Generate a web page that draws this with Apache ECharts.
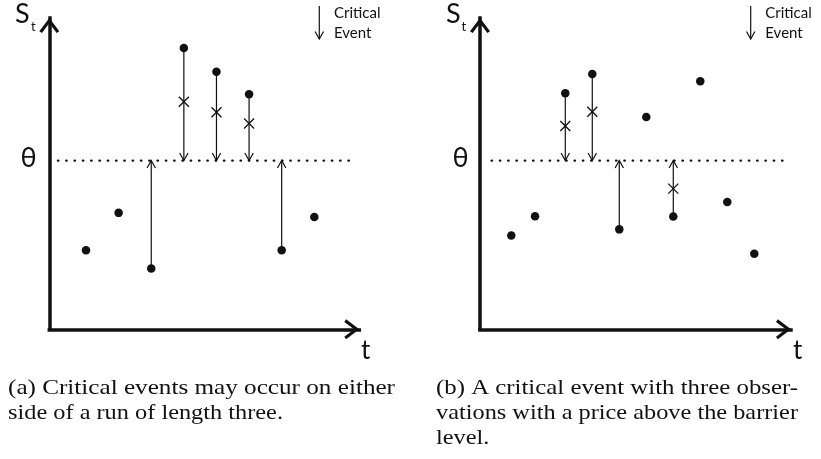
<!DOCTYPE html>
<html>
<head>
<meta charset="utf-8">
<script src="https://cdn.jsdelivr.net/npm/echarts@6/dist/echarts.min.js"></script>
<style>html,body{margin:0;padding:0;background:#fff;}#c{width:821px;height:459px;}</style>
</head>
<body>
<div id="c"></div>
<script>
// Panel (a)
const tA = [1, 2, 3, 4, 5, 6, 7, 8];
const sA = [2.54, 3.74, 1.95, 9.04, 8.27, 7.55, 2.54, 3.61];
const crossA = [null, null, null, 7.31, 6.97, 6.61, null, null];
const eventA = [0, 0, 1, 1, 1, 1, 1, 0];
const barrierSpanA = [0.14, 9.19];
// Panel (b)
const tB = [1, 1.88, 3, 4, 5, 6, 7, 8, 9, 10];
const sB = [3.01, 3.63, 7.58, 8.20, 3.21, 6.82, 3.62, 7.97, 4.09, 2.43];
const crossB = [null, null, 6.53, 6.99, null, null, 4.52, null, null, null];
const eventB = [0, 0, 1, 1, 1, 0, 1, 0, 0, 0];
const barrierSpanB = [0.27, 11.14];
const theta = 5.42;
const captionA = ['(a) Critical events may occur on either', 'side of a run of length three.'];
const captionB = ['(b) A critical event with three obser-', 'vations with a price above the barrier', 'level.'];

const chart = echarts.init(document.getElementById('c'), null, {renderer: 'canvas'});
const chevron = 'path://M0,13.2 L10,0 L20,13.2 L17.4,15 L10,5.2 L2.6,15 Z';

function axisPair(idx, min, max) {
  return {
    x: {type: 'value', gridIndex: idx, min: min, max: max,
      axisLine: {show: true, onZero: false, symbol: ['none', chevron], symbolSize: [20, 15], symbolOffset: [0, -7.5],
        lineStyle: {color: '#111', width: 3.5, cap: 'square'}},
      axisTick: {show: false}, axisLabel: {show: false}, splitLine: {show: false}},
    y: {type: 'value', gridIndex: idx, min: 0, max: 10,
      axisLine: {show: true, onZero: false, symbol: ['none', chevron], symbolSize: [20, 15], symbolOffset: [0, -7.5],
        lineStyle: {color: '#111', width: 3.5, cap: 'square'}},
      axisTick: {show: false}, axisLabel: {show: false}, splitLine: {show: false}}
  };
}
const axA = axisPair(0, -0.126, 9.38);
const axB = axisPair(1, -0.159, 11.36);

function rows(t, s, cross, ev) {
  return t.map((v, i) => [v, s[i], cross[i] == null ? NaN : cross[i], ev[i]]);
}

function renderEvents(params, api) {
  const t = api.value(0), s = api.value(1), c = api.value(2), ev = api.value(3);
  const children = [];
  const p = api.coord([t, s]);
  const q = api.coord([t, theta]);
  const ls = {stroke: '#111', lineWidth: 1.2, fill: 'none'};
  if (ev) {
    children.push({type: 'line', shape: {x1: p[0], y1: p[1], x2: q[0], y2: q[1]}, style: ls});
    const d = q[1] > p[1] ? 1 : -1;
    children.push({type: 'polyline', shape: {points: [[q[0] - 4.2, q[1] - d * 7.5], [q[0], q[1]], [q[0] + 4.2, q[1] - d * 7.5]]}, style: ls});
  }
  if (!isNaN(c)) {
    const m = api.coord([t, c]);
    const r = 5;
    children.push({type: 'line', shape: {x1: m[0] - r, y1: m[1] - r, x2: m[0] + r, y2: m[1] + r}, style: {stroke: '#111', lineWidth: 1.3}});
    children.push({type: 'line', shape: {x1: m[0] - r, y1: m[1] + r, x2: m[0] + r, y2: m[1] - r}, style: {stroke: '#111', lineWidth: 1.3}});
  }
  return {type: 'group', children: children};
}

function panelSeries(idx, t, s, cross, ev, span) {
  return [
    {type: 'line', xAxisIndex: idx, yAxisIndex: idx, data: [[span[0], theta], [span[1], theta]], symbol: 'none', silent: true,
      lineStyle: {color: '#111', width: 2.4, type: [0.4, 7.9], cap: 'round', opacity: 1}, animation: false},
    {type: 'custom', xAxisIndex: idx, yAxisIndex: idx, data: rows(t, s, cross, ev), renderItem: renderEvents, silent: true, animation: false,
      encode: {x: 0, y: 1}},
    {type: 'scatter', xAxisIndex: idx, yAxisIndex: idx, data: t.map((v, i) => [v, s[i]]), symbolSize: 8.5,
      itemStyle: {color: '#111', opacity: 1}, silent: true, animation: false}
  ];
}

const labelFont = 'Lato, "Open Sans", sans-serif';
const capFont = '"Liberation Serif", "DejaVu Serif", serif';
const capSize = 21;
const mctx = document.createElement('canvas').getContext('2d');
mctx.font = capSize + 'px ' + capFont;
function measure(s) { return mctx.measureText(s).width; }
// natural stretch, taken from the last (unjustified) line of caption (a)
const baseScale = 275 / measure(captionA[1]);

function txt(text, x, y, size, extra) {
  return {type: 'text', style: Object.assign({text: text, x: x, y: y, fill: '#111',
    font: size + 'px ' + labelFont, textVerticalAlign: 'middle'}, extra || {})};
}
function legendArrow(x) {
  return {type: 'group', children: [
    {type: 'line', shape: {x1: x, y1: 6, x2: x, y2: 39}, style: {stroke: '#111', lineWidth: 1.2}},
    {type: 'polyline', shape: {points: [[x - 4.2, 31.5], [x, 39], [x + 4.2, 31.5]]}, style: {stroke: '#111', lineWidth: 1.2, fill: 'none'}}
  ]};
}
function captionLines(lines, x, widths) {
  return lines.map((l, i) => ({
    type: 'text', x: x, y: 388 + i * 25.3,
    scaleX: widths[i] ? widths[i] / measure(l) : baseScale,
    style: {text: l, x: 0, y: 0, fill: '#111', font: capSize + 'px ' + capFont, textVerticalAlign: 'middle'}
  }));
}

const graphics = [
  txt('S', 15, 14, 27), txt('t', 31, 27, 13),
  txt('θ', 20.5, 158, 27), txt('t', 361, 351, 26),
  legendArrow(319.3), txt('Critical', 334, 13, 15), txt('Event', 334, 33.5, 15),
  txt('S', 446, 14, 27), txt('t', 461.5, 27, 13),
  txt('θ', 452.5, 158, 27), txt('t', 793, 351, 26),
  legendArrow(750.7), txt('Critical', 765.3, 13, 15), txt('Event', 765.3, 33.5, 15)
].concat(captionLines(captionA, 8, [387, 0]), captionLines(captionB, 436, [362, 362, 0]));

chart.setOption({
  animation: false,
  backgroundColor: '#fff',
  grid: [
    {left: 49.3, top: 18, width: 310, height: 311.3},
    {left: 480, top: 18, width: 311, height: 311.3}
  ],
  xAxis: [axA.x, axB.x],
  yAxis: [axA.y, axB.y],
  series: [].concat(panelSeries(0, tA, sA, crossA, eventA, barrierSpanA), panelSeries(1, tB, sB, crossB, eventB, barrierSpanB)),
  graphic: graphics
});
</script>
</body>
</html>
